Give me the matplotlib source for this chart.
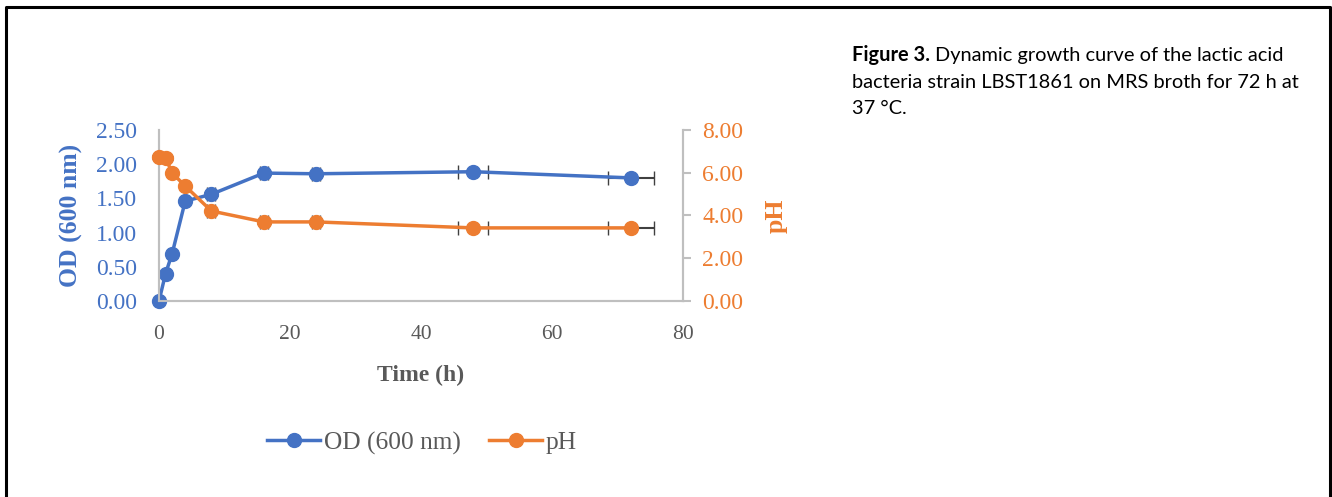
import matplotlib.pyplot as plt
from matplotlib.lines import Line2D

# data
time_h = [0, 1, 2, 4, 8, 16, 24, 48, 72]
od600 = [0.00, 0.40, 0.69, 1.46, 1.56, 1.87, 1.86, 1.89, 1.80]
ph = [6.75, 6.70, 5.99, 5.38, 4.21, 3.70, 3.70, 3.42, 3.42]
time_err = [0, 0, 0, 0, 0.6, 0.6, 0.6, 2.3, 3.5]
od_err = [0, 0, 0, 0, 0.03, 0.03, 0.03, 0.02, 0.02]
ph_err = [0.1, 0.1, 0, 0, 0, 0.08, 0.08, 0.02, 0.02]

blue = '#4472C4'
orange = '#ED7D31'
gray = '#595959'
axis_gray = '#BFBFBF'
err_gray = '#404040'
serif = ['Liberation Serif', 'DejaVu Serif']

fig = plt.figure(figsize=(13.32, 4.97), dpi=100)
ax = fig.add_axes([159 / 1332, 1 - 301 / 497, (683 - 159) / 1332, (301 - 130) / 497])
ax2 = ax.twinx()

ax.errorbar(time_h, od600, xerr=time_err, yerr=od_err, fmt='none',
            ecolor=err_gray, elinewidth=1.5, capsize=5, zorder=2, clip_on=False)
ax.plot(time_h, od600, color=blue, lw=2.5, marker='o', ms=10, zorder=3, clip_on=False)
ax2.errorbar(time_h, ph, xerr=time_err, yerr=ph_err, fmt='none',
             ecolor=err_gray, elinewidth=1.5, capsize=5, zorder=2, clip_on=False)
ax2.plot(time_h, ph, color=orange, lw=2.5, marker='o', ms=10, zorder=3, clip_on=False)

ax.set_xlim(0, 80)
ax.set_ylim(0, 2.5)
ax2.set_ylim(0, 8)
ax.set_xticks([0, 20, 40, 60, 80])
ax.set_yticks([0, 0.5, 1.0, 1.5, 2.0, 2.5])
ax2.set_yticks([0, 2, 4, 6, 8])
ax.set_yticklabels(['%.2f' % v for v in ax.get_yticks()], family=serif,
                   fontsize=17, color=blue)
ax2.set_yticklabels(['%.2f' % v for v in ax2.get_yticks()], family=serif,
                    fontsize=17, color=orange)
ax.set_xticklabels(['0', '20', '40', '60', '80'], family=serif,
                   fontsize=15.5, color=gray)

for a in (ax, ax2):
    a.spines['top'].set_visible(False)
    for s in ('left', 'bottom', 'right'):
        a.spines[s].set_color(axis_gray)
        a.spines[s].set_linewidth(1.5)
    a.patch.set_visible(False)
ax.tick_params(axis='y', length=0, pad=16)
ax.tick_params(axis='x', length=0, pad=17)
ax2.tick_params(axis='y', length=6, width=1.5, color=axis_gray, pad=8)

ax.set_ylabel('OD (600 nm)', family=serif, fontsize=18.5, fontweight='bold',
              color=blue, labelpad=9)
ax2.set_ylabel('pH', family=serif, fontsize=18.5, fontweight='bold',
               color=orange, rotation=90, labelpad=15)
ax.set_xlabel('Time (h)', family=serif, fontsize=17, fontweight='bold',
              color=gray, labelpad=15)

handles = [Line2D([], [], color=blue, lw=2.5, marker='o', ms=10),
           Line2D([], [], color=orange, lw=2.5, marker='o', ms=10)]
fig.legend(handles, ['OD (600 nm)', 'pH'], loc='center', bbox_to_anchor=(422 / 1332, 1 - 443 / 497),
           ncol=2, frameon=False, handlelength=2.1, handletextpad=0.15, columnspacing=1.1,
           prop={'family': serif, 'size': 18.3}, labelcolor=gray)

# caption
sans = ['Lato', 'DejaVu Sans']
x0 = 852 / 1332
t_bold = fig.text(x0, 1 - 55 / 497, 'Figure 3.', family=sans, fontsize=14.4,
                  fontweight='bold', va='center', color='black')
fig.canvas.draw()
bb = t_bold.get_window_extent()
fig.text((bb.x1 + 5) / 1332, 1 - 55 / 497, 'Dynamic growth curve of the lactic acid',
         family=sans, fontsize=14.4, va='center', color='black')
fig.text(x0, 1 - 82 / 497, 'bacteria strain LBST1861 on MRS broth for 72 h at',
         family=sans, fontsize=14.4, va='center', color='black')
fig.text(x0, 1 - 109 / 497, '37 °C.', family=sans, fontsize=14.4, va='center', color='black')

# frame around the figure (open at the bottom)
fig.add_artist(Line2D([6 / 1332, 6 / 1332, 1330 / 1332, 1330 / 1332],
                      [0, 1 - 7 / 497, 1 - 7 / 497, 0], color='black', lw=2.2,
                      transform=fig.transFigure))

fig.savefig('out.png', dpi=100)
